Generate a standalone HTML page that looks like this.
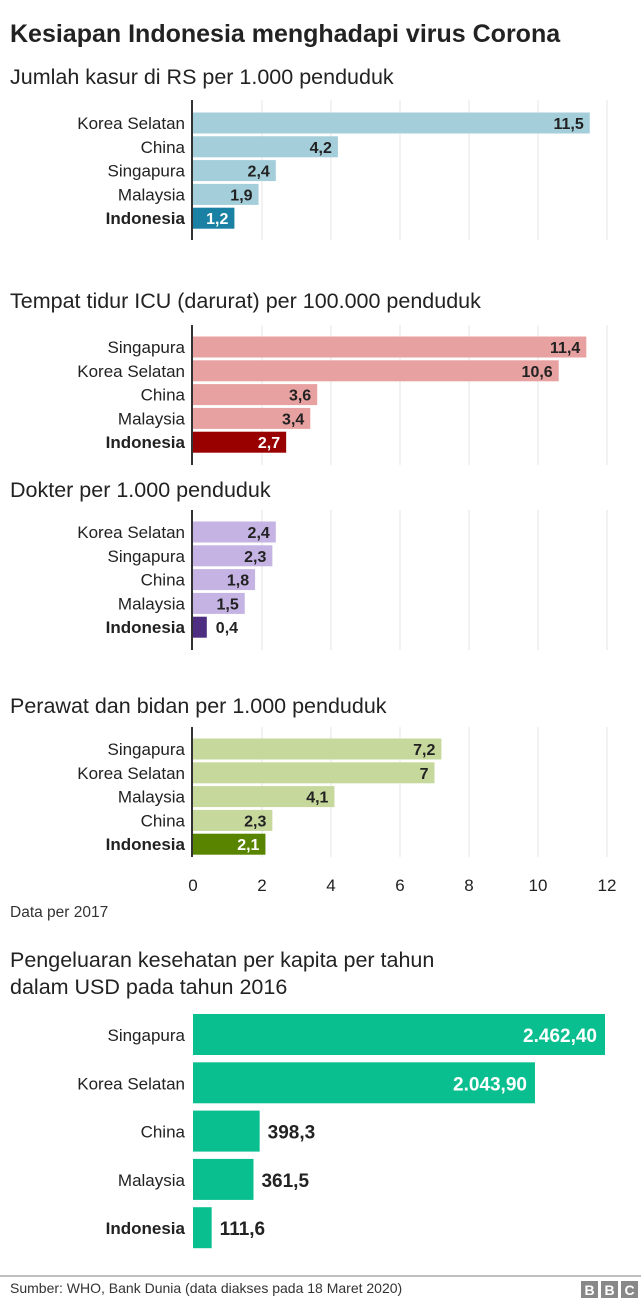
<!DOCTYPE html>
<html><head><meta charset="utf-8">
<style>
body{margin:0;background:#fff;}
svg{display:block;font-family:"Liberation Sans",Arial,sans-serif;}
</style></head>
<body>
<svg id="c" width="641" height="1303" viewBox="0 0 641 1303">
<text x="10" y="42" font-size="25" font-weight="bold" fill="#222">Kesiapan Indonesia menghadapi virus Corona</text>
<g id="grid"></g>
<g id="charts"></g>
<text x="10" y="917" font-size="15.5" fill="#333">Data per 2017</text>
<text x="10" y="967" font-size="21.5" fill="#222">Pengeluaran kesehatan per kapita per tahun</text>
<text x="10" y="994" font-size="21.5" fill="#222">dalam USD pada tahun 2016</text>
<g id="spend"></g>
<line x1="0" y1="1276" x2="641" y2="1276" stroke="#aaa" stroke-width="1.5"/>
<text x="10" y="1293" font-size="14" fill="#333">Sumber: WHO, Bank Dunia (data diakses pada 18 Maret 2020)</text>
<g>
<rect x="581" y="1281" width="17" height="17" fill="#888"/><rect x="601" y="1281" width="17" height="17" fill="#888"/><rect x="621" y="1281" width="17" height="17" fill="#888"/>
<text x="589.5" y="1295" font-size="14" font-weight="bold" fill="#fff" text-anchor="middle">B</text>
<text x="609.5" y="1295" font-size="14" font-weight="bold" fill="#fff" text-anchor="middle">B</text>
<text x="629.5" y="1295" font-size="14" font-weight="bold" fill="#fff" text-anchor="middle">C</text>
</g>
</svg>
<script>
const beds = [["Korea Selatan",11.5],["China",4.2],["Singapura",2.4],["Malaysia",1.9],["Indonesia",1.2]];
const icu = [["Singapura",11.4],["Korea Selatan",10.6],["China",3.6],["Malaysia",3.4],["Indonesia",2.7]];
const doctors = [["Korea Selatan",2.4],["Singapura",2.3],["China",1.8],["Malaysia",1.5],["Indonesia",0.4]];
const nurses = [["Singapura",7.2],["Korea Selatan",7],["Malaysia",4.1],["China",2.3],["Indonesia",2.1]];
const spending = [["Singapura",2462.4],["Korea Selatan",2043.9],["China",398.3],["Malaysia",361.5],["Indonesia",111.6]];
const xTicks = [0,2,4,6,8,10,12];
const spendLabels = ["2.462,40","2.043,90","398,3","361,5","111,6"];

const NS="http://www.w3.org/2000/svg";
const X0=193, X12=607;
const x = v => X0 + v*(X12-X0)/12;
const xs = v => X0 + v*(605-X0)/2462.4;
function mk(tag, attrs, parent, text){const e=document.createElementNS(NS,tag);for(const k in attrs)e.setAttribute(k,attrs[k]);if(text!==undefined)e.textContent=text;parent.appendChild(e);return e;}
const charts=document.getElementById('charts'), grid=document.getElementById('grid');
const fmt=v=>String(v).replace('.',',');

const defs=[
 {title:"Jumlah kasur di RS per 1.000 penduduk",ty:84,data:beds,y0:123,ax:[100,240],light:"#a4ceda",dark:"#1a80a4",name:"beds"},
 {title:"Tempat tidur ICU (darurat) per 100.000 penduduk",ty:308,data:icu,y0:347,ax:[325,465],light:"#e8a1a1",dark:"#990000",name:"icu"},
 {title:"Dokter per 1.000 penduduk",ty:497,data:doctors,y0:532,ax:[510,650],light:"#c4b3e3",dark:"#4e2e80",name:"doctors"},
 {title:"Perawat dan bidan per 1.000 penduduk",ty:713,data:nurses,y0:749,ax:[727,857],light:"#c7d89d",dark:"#588400",name:"nurses"}
];
const gstep=23.8;
defs.forEach(d=>{
 const g=mk('g',{},charts);
 
 
 const t=mk('text',{x:10,y:d.ty,'font-size':21.5,fill:'#222'},g,d.title);
 
 
 xTicks.forEach(v=>{ if(v>0){const l=mk('line',{x1:x(v),x2:x(v),y1:d.ax[0],y2:d.ax[1],stroke:'#e4e4e4','stroke-width':1},grid);
  
  }});
 d.data.forEach((r,i)=>{
  const cy=d.y0+i*gstep, isI=r[0]==="Indonesia";
  const w=x(r[1])-X0;
  const b=mk('rect',{x:X0,y:cy-10.5,width:w,height:21,fill:isI?d.dark:d.light},g);
  
  
  const lb=mk('text',{x:185,y:cy+6,'font-size':17,'text-anchor':'end',fill:'#222','font-weight':isI?'bold':'normal'},g,r[0]);
  
  
  const inside=w>40;
  const vl=mk('text',{x:inside?X0+w-6:X0+w+9,y:cy+6,'font-size':16,'font-weight':'bold','text-anchor':inside?'end':'start',fill:(isI&&inside)?'#fff':'#222'},g,fmt(r[1]));
  
  
 });
 const a=mk('line',{x1:X0-1,x2:X0-1,y1:d.ax[0],y2:d.ax[1],stroke:'#333','stroke-width':2},g);
 
 
});
xTicks.forEach(v=>{const t=mk('text',{x:x(v),y:891,'font-size':17,'text-anchor':'middle',fill:'#222'},charts,String(v));
 
 });

const sp=document.getElementById('spend');
spending.forEach((r,i)=>{
 const cy=1035+i*48.3, isI=r[0]==="Indonesia";
 const w=xs(r[1])-X0;
 const b=mk('rect',{x:X0,y:cy-21,width:w,height:41,fill:'#0abf8f'},sp);
 
 
 const lb=mk('text',{x:185,y:cy+6,'font-size':17,'text-anchor':'end',fill:'#222','font-weight':isI?'bold':'normal'},sp,r[0]);
 
 
 const inside=w>120;
 const vl=mk('text',{x:inside?X0+w-8:X0+w+8,y:cy+7,'font-size':19,'font-weight':'bold','text-anchor':inside?'end':'start',fill:inside?'#fff':'#222'},sp,spendLabels[i]);
 
 
});
</script>
</body></html>
